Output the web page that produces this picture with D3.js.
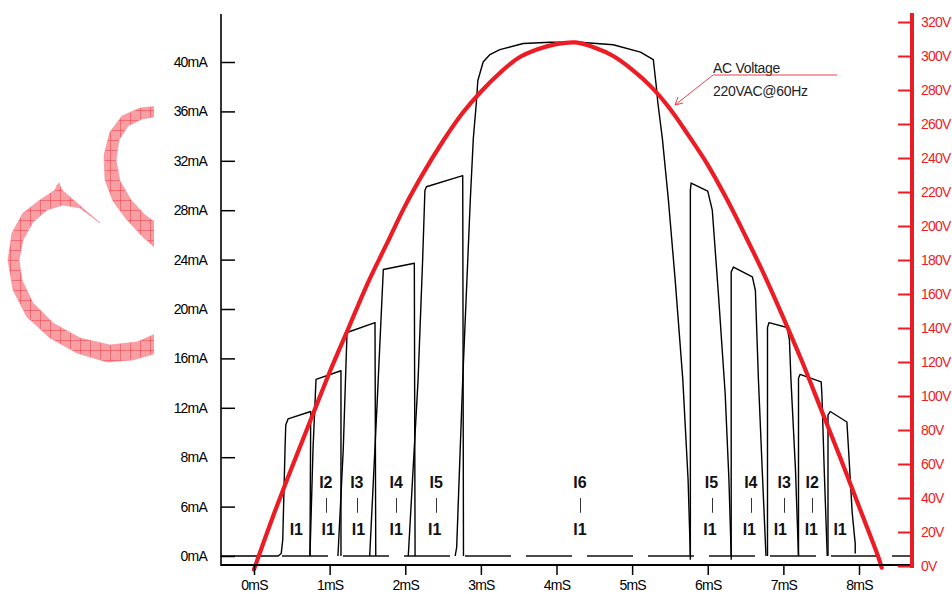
<!DOCTYPE html>
<html lang="en">
<head>
<meta charset="UTF-8">
<title>Current pulses vs AC voltage</title>
<script src="https://d3js.org/d3.v7.min.js"></script>
<style>
  body { margin: 0; background: #fff; }
  text { font-family: "Liberation Sans", Arial, sans-serif; }
</style>
</head>
<body>
<div id="chart"></div>
<script>
// axis ticks and their labels
const currentTicks = [0, 4, 8, 12, 16, 20, 24, 28, 32, 36, 40];
const currentTickLabels = ["0mA", "6mA", "8mA", "12mA", "16mA", "20mA", "24mA", "28mA", "32mA", "36mA", "40mA"];
const timeTicks = [0, 1, 2, 3, 4, 5, 6, 7, 8];
const voltTicks = [0, 20, 40, 60, 80, 100, 120, 140, 160, 180, 200, 220, 240, 260, 280, 300, 320];

// current trace, one array per pulse: [mS, mA]
const pulseL1 = [[-0.44, 0], [0.32, 0], [0.36, 0.2], [0.38, 1.3], [0.41, 8.6], [0.42, 10.6], [0.45, 11.1], [0.75, 11.7], [0.74, 0]];
const pulseL2 = [[0.74, 0], [0.78, 8.6], [0.82, 14.3], [1.15, 15.0], [1.15, 0]];
const pulseL3 = [[1.11, 0], [1.18, 8.6], [1.23, 18.1], [1.60, 18.9], [1.61, 0]];
const pulseL4 = [[1.53, 0], [1.63, 12.6], [1.71, 23.2], [2.12, 23.7], [2.13, 0]];
const pulseL5 = [[2.04, 0], [2.17, 14.3], [2.23, 24.0], [2.26, 29.6], [2.28, 29.9], [2.76, 30.8], [2.77, 0]];
const pulseL6 = [[2.66, 0], [2.68, 0.7], [2.76, 14.3], [2.86, 28.8], [2.90, 33.8], [2.94, 36.7], [2.96, 38.5], [3.03, 40.0],
  [3.12, 40.6], [3.25, 41.0], [3.56, 41.5], [3.92, 41.6], [4.31, 41.6], [4.75, 41.4], [5.11, 40.8], [5.28, 40.2],
  [5.32, 38.0], [5.34, 36.7], [5.40, 33.8], [5.48, 28.8], [5.57, 22.3], [5.67, 14.3], [5.74, 6.2], [5.77, 0]];
const pulseR5 = [[5.77, -0.3], [5.77, 29.6], [5.78, 30.2], [6.00, 29.55], [6.06, 28.0], [6.14, 21.3], [6.23, 13.2], [6.28, 6.2], [6.31, 0]];
const pulseR4 = [[6.31, -0.3], [6.31, 23.0], [6.34, 23.4], [6.59, 22.6], [6.63, 21.5], [6.67, 14.3], [6.72, 7.0], [6.77, 0]];
const pulseR3 = [[6.79, 0], [6.79, 18.5], [6.81, 18.9], [7.05, 18.5], [7.08, 17.5], [7.10, 14.3], [7.16, 7.0], [7.20, 0]];
const pulseR2 = [[7.20, 0], [7.20, 14.4], [7.22, 14.7], [7.50, 14.1], [7.51, 13.0], [7.54, 7.0], [7.58, 0]];
const pulseR1 = [[7.59, 0], [7.59, 11.4], [7.62, 11.7], [7.84, 10.85], [7.86, 8.8], [7.91, 3.5], [7.95, 1.0], [7.95, 0.2]];
const pulses = [pulseL1, pulseL2, pulseL3, pulseL4, pulseL5, pulseL6, pulseR5, pulseR4, pulseR3, pulseR2, pulseR1];

// AC voltage trace
const voltTime = [0, 0.25, 0.5, 0.75, 1, 1.25, 1.5, 1.75, 2, 2.25, 2.5, 2.75, 3, 3.25, 3.5, 3.75, 4, 4.25,
  4.5, 4.75, 5, 5.25, 5.5, 5.75, 6, 6.25, 6.5, 6.75, 7, 7.25, 7.5, 7.75, 8, 8.25, 8.3];
const voltValue = [-2, 29, 58, 86, 114, 140, 166, 189, 212, 232, 250, 266, 279, 290, 299, 304, 307, 308,
  305, 300, 292, 282, 269, 253, 236, 216, 194, 171, 146, 120, 92, 64, 35, 6, -1];

// segment labels (time in mS)
const upperLabels = ["I2", "I3", "I4", "I5", "I6", "I5", "I4", "I3", "I2"];
const upperLabelTime = [0.95, 1.36, 1.88, 2.41, 4.31, 6.05, 6.57, 7.01, 7.38];
const lowerLabelTime = [0.56, 0.98, 1.38, 1.88, 2.39, 4.31, 6.03, 6.55, 6.96, 7.37, 7.75];

const red = "#ed1c24";
const width = 952, height = 594;

const svg = d3.select("#chart").append("svg")
  .attr("width", width)
  .attr("height", height)
  .style("display", "block");

// scales
const x = d3.scaleLinear().domain([0, 8]).range([254, 859]);
const y = d3.scaleLinear().domain([0, 40]).range([556, 62]);
const yV = d3.scaleLinear().domain([0, 320]).range([566, 22]);

// watermark logo (hatched, clipped left of the labels)
const defs = svg.append("defs");
const pat = defs.append("pattern").attr("id", "hatch")
  .attr("patternUnits", "userSpaceOnUse").attr("width", 10).attr("height", 10);
pat.append("rect").attr("width", 10).attr("height", 10).attr("fill", "#f6a0a6");
pat.append("path").attr("d", "M0,0H10M0,0V10").attr("stroke", "#ef2a36").attr("stroke-width", 0.9);
defs.append("clipPath").attr("id", "wmclip").append("rect").attr("x", 0).attr("y", 0).attr("width", 154).attr("height", 594);

const upperArc = [[160, 106], [140, 108], [122, 116], [110, 132], [104, 155], [105, 180], [113, 201], [127, 220], [143, 237], [160, 252],
  [160, 226], [145, 215], [131, 200], [120, 181], [116, 160], [119, 140], [128, 126], [142, 119], [160, 116]];
const lowerArc = [[59, 183], [62, 190], [100, 223], [80, 208], [63, 205], [47, 210], [33, 222], [23, 240], [19, 260], [22, 280],
  [33, 303], [53, 323], [80, 338], [110, 345], [137, 342], [160, 332], [160, 352], [133, 360], [107, 362], [77, 353],
  [50, 338], [27, 317], [13, 290], [8, 260], [12, 233], [23, 213], [40, 200], [55, 190], [57, 185]];
const wm = svg.append("g").attr("clip-path", "url(#wmclip)");
const wmLine = d3.line().curve(d3.curveLinearClosed);
[upperArc, lowerArc].forEach(p => {
  wm.append("path").attr("d", wmLine(p)).attr("fill", "url(#hatch)").attr("stroke", "#f58a92").attr("stroke-width", 0.6);
});

// dashed zero line
svg.append("line")
  .attr("x1", 282).attr("x2", 912)
  .attr("y1", y(0)).attr("y2", y(0))
  .attr("stroke", "#111").attr("stroke-width", 1.3)
  .attr("stroke-dasharray", "46,15");

// current pulses
const line = d3.line().x(d => x(d[0])).y(d => y(d[1]));
svg.append("g").selectAll("path")
  .data(pulses)
  .join("path")
  .attr("d", line)
  .attr("fill", "none")
  .attr("stroke", "#000")
  .attr("stroke-width", 1.4)
  .attr("stroke-linejoin", "round");

// labels
const lab = svg.append("g").attr("fill", "#111").attr("text-anchor", "middle");
lab.selectAll("text.up").data(upperLabels).join("text").attr("class", "up")
  .attr("x", (d, i) => x(upperLabelTime[i])).attr("y", y(5.5))
  .attr("font-size", 16).attr("font-weight", "bold").text(d => d);
lab.selectAll("line.bar").data(upperLabelTime).join("line").attr("class", "bar")
  .attr("x1", d => Math.round(x(d)) + 0.5).attr("x2", d => Math.round(x(d)) + 0.5)
  .attr("y1", y(4.7)).attr("y2", y(3.5))
  .attr("stroke", "#333").attr("stroke-width", 1);
lab.selectAll("text.low").data(lowerLabelTime).join("text").attr("class", "low")
  .attr("x", d => x(d)).attr("y", y(1.7))
  .attr("font-size", 16).attr("font-weight", "bold").text("I1");

// voltage curve
const vline = d3.line().x((d, i) => x(voltTime[i])).y(d => yV(d)).curve(d3.curveCatmullRom);
svg.append("path")
  .attr("d", vline(voltValue))
  .attr("fill", "none")
  .attr("stroke", red)
  .attr("stroke-width", 4.2)
  .attr("stroke-linecap", "round");

// left axis
const gl = svg.append("g").attr("transform", "translate(221,0)")
  .call(d3.axisLeft(y).tickValues(currentTicks).tickFormat((d, i) => currentTickLabels[i]).tickSize(-14).tickPadding(14));
gl.select(".domain").remove();
gl.selectAll(".tick line").attr("stroke", "#000").attr("stroke-width", 1.5);
gl.selectAll(".tick text").attr("font-size", 14).attr("fill", "#000")
  .attr("font-family", "Liberation Sans, Arial, sans-serif").attr("letter-spacing", -0.8);
svg.append("line").attr("x1", 221).attr("x2", 221).attr("y1", 14).attr("y2", 566)
  .attr("stroke", "#000").attr("stroke-width", 1.6);

// bottom axis
const gb = svg.append("g").attr("transform", "translate(0,565)")
  .call(d3.axisBottom(x).tickValues(timeTicks).tickFormat(d => d + "mS").tickSize(10).tickPadding(5));
gb.select(".domain").remove();
gb.selectAll(".tick line").attr("stroke", "#000").attr("stroke-width", 1.5);
gb.selectAll(".tick text").attr("font-size", 14).attr("fill", "#000")
  .attr("font-family", "Liberation Sans, Arial, sans-serif").attr("letter-spacing", -0.8);
svg.append("line").attr("x1", 221).attr("x2", 912).attr("y1", 565).attr("y2", 565)
  .attr("stroke", "#000").attr("stroke-width", 2);

// right axis (voltage)
const gr = svg.append("g").attr("transform", "translate(912,0)")
  .call(d3.axisRight(yV).tickValues(voltTicks).tickFormat(d => d + "V").tickSize(-14).tickPadding(9));
gr.select(".domain").remove();
gr.selectAll(".tick line").attr("stroke", red).attr("stroke-width", 2);
gr.selectAll(".tick text").attr("font-size", 14).attr("fill", red)
  .attr("font-family", "Liberation Sans, Arial, sans-serif").attr("letter-spacing", -0.8);
svg.append("line").attr("x1", 912).attr("x2", 912).attr("y1", 13).attr("y2", 568)
  .attr("stroke", red).attr("stroke-width", 4);

// annotation
const ann = svg.append("g");
ann.append("text").attr("x", 713).attr("y", 73).attr("font-size", 14).attr("fill", "#222")
  .attr("letter-spacing", -0.3).text("AC Voltage");
ann.append("text").attr("x", 713).attr("y", 96).attr("font-size", 14).attr("fill", "#222")
  .attr("letter-spacing", -0.3).text("220VAC@60Hz");
ann.append("path").attr("d", "M837,75H713L675,105M675,105l3,-8M675,105l8,-2")
  .attr("fill", "none").attr("stroke", "#e8404c").attr("stroke-width", 1);
</script>
</body>
</html>
